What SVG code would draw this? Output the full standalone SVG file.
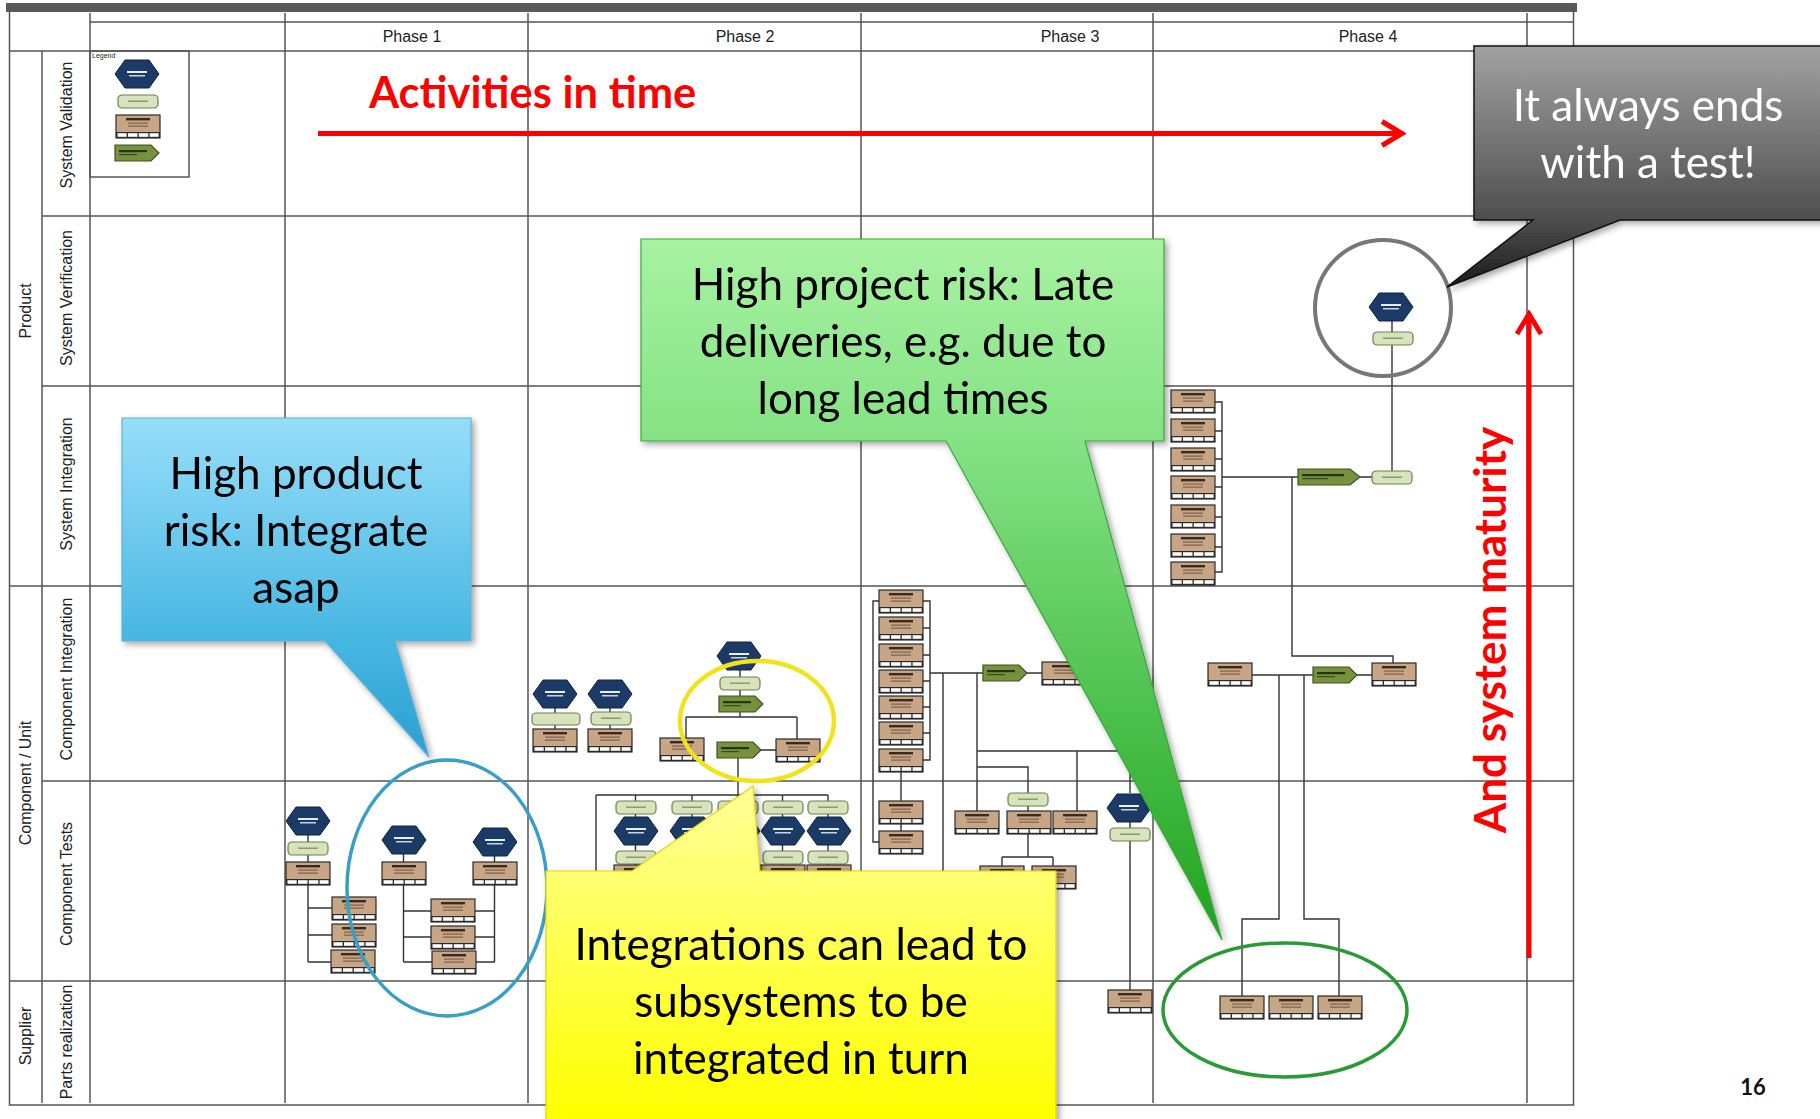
<svg xmlns="http://www.w3.org/2000/svg" xmlns:xlink="http://www.w3.org/1999/xlink" width="1820" height="1119" viewBox="0 0 1820 1119">
<style>
.grid{stroke:#555;stroke-width:1.5;fill:none}
.conn{stroke:#333;stroke-width:1.4;fill:none}
.lbl{font-family:"Liberation Sans",Arial,sans-serif;font-size:16px;fill:#222}
.call{font-family:Lato,"Open Sans",sans-serif;font-size:44px;fill:#000}
.red{font-family:Lato,"Open Sans",sans-serif;font-weight:bold;fill:#ff0000}
.redline{stroke:#ff0000;stroke-width:5;fill:none}
</style>
<defs>
<filter id="sh" x="-10%" y="-10%" width="130%" height="130%"><feDropShadow dx="3" dy="3" stdDeviation="3" flood-color="#000" flood-opacity="0.35"/></filter>
<g id="hex"><polygon points="0,14 10,0 34,0 44,14 34,28 10,28" fill="#1b3a66" stroke="#0e2244" stroke-width="1"/><rect x="12" y="11" width="20" height="2" fill="#e8eef8"/><rect x="14" y="15" width="16" height="1.5" fill="#c8d4e8"/></g>
<g id="lg"><rect width="40" height="13" rx="4" fill="#d6e3bc" stroke="#6f7f4f" stroke-width="1.2"/><rect x="10" y="5.5" width="20" height="1.5" fill="#8a9a6a"/></g>
<g id="tan"><rect width="44" height="23" fill="#c8a685" stroke="#2b2b2b" stroke-width="1.2"/><rect x="10" y="3" width="24" height="2.4" fill="#3a2a1e"/><rect x="12" y="7.5" width="20" height="1.2" fill="#7a6050"/><rect x="12" y="10.5" width="20" height="1.2" fill="#7a6050"/><rect x="0" y="17" width="44" height="6" fill="#2b2b2b"/><rect x="1.5" y="18.2" width="9.2" height="3.6" fill="#fff"/><rect x="12" y="18.2" width="9.5" height="3.6" fill="#fff"/><rect x="22.8" y="18.2" width="9.5" height="3.6" fill="#fff"/><rect x="33.6" y="18.2" width="9" height="3.6" fill="#fff"/></g>
<g id="arr"><polygon points="0,0 36,0 44,8 36,16 0,16" fill="#76923c" stroke="#3f5220" stroke-width="1.2"/><rect x="4" y="5" width="28" height="2.2" fill="#263314"/><rect x="4" y="9" width="18" height="1.2" fill="#3a4a20"/></g>
<linearGradient id="gBlue" gradientUnits="userSpaceOnUse" x1="0" y1="418" x2="0" y2="757"><stop offset="0" stop-color="#97def9"/><stop offset="0.66" stop-color="#46b6e2"/><stop offset="1" stop-color="#2a9fcf"/></linearGradient>
<linearGradient id="gGreen" gradientUnits="userSpaceOnUse" x1="0" y1="239" x2="0" y2="940"><stop offset="0" stop-color="#a8f2a2"/><stop offset="0.29" stop-color="#84e284"/><stop offset="1" stop-color="#1ea41e"/></linearGradient>
<linearGradient id="gYellow" gradientUnits="userSpaceOnUse" x1="0" y1="786" x2="0" y2="1119"><stop offset="0" stop-color="#ffff9a"/><stop offset="1" stop-color="#ffff00"/></linearGradient>
<linearGradient id="gGray" gradientUnits="userSpaceOnUse" x1="0" y1="46" x2="0" y2="287"><stop offset="0" stop-color="#a2a2a2"/><stop offset="0.72" stop-color="#4e4e4e"/><stop offset="1" stop-color="#1a1a1a"/></linearGradient>
<marker id="chev" markerUnits="userSpaceOnUse" markerWidth="30" markerHeight="30" viewBox="0 0 30 30" refX="26" refY="15" orient="auto"><path d="M6,3 L26,15 L6,27" fill="none" stroke="#ff0000" stroke-width="5" stroke-linejoin="miter"/></marker>
</defs>
<rect width="1820" height="1119" fill="#fff"/>

<g id="grid">
<rect x="6" y="3" width="1571" height="9" fill="#5a5a5a"/>
<rect x="9.5" y="8" width="1564" height="1097" class="grid" stroke="#5a5a5a" stroke-width="7"/>
<path class="grid" d="M90 13V1103M285 13V1103M528 13V1103M861 13V1103M1153 13V1103M1527 13V1103M42 51V1103"/>
<path class="grid" d="M90 22H1573M9 51H1573M42 216H1573M42 386H1573M9 586H1573M42 781H1573M9 981H1573"/>
<rect x="90" y="51" width="99" height="126" class="grid"/>
<text x="92" y="58" font-family="Liberation Sans,Arial,sans-serif" font-size="7" fill="#222">Legend</text>
<g class="lbl" text-anchor="middle">
<text x="412" y="42">Phase 1</text>
<text x="745" y="42">Phase 2</text>
<text x="1070" y="42">Phase 3</text>
<text x="1368" y="42">Phase 4</text>
<text transform="translate(31,311) rotate(-90)">Product</text>
<text transform="translate(31,783) rotate(-90)">Component / Unit</text>
<text transform="translate(31,1036) rotate(-90)">Supplier</text>
<text transform="translate(72,125) rotate(-90)">System Validation</text>
<text transform="translate(72,298) rotate(-90)">System Verification</text>
<text transform="translate(72,484) rotate(-90)">System Integration</text>
<text transform="translate(72,679) rotate(-90)">Component Integration</text>
<text transform="translate(72,884) rotate(-90)">Component Tests</text>
<text transform="translate(72,1042) rotate(-90)">Parts realization</text>
</g>
</g>

<g id="connectors" class="conn">
<path d="M308 821V962M308 908H332M308 935H332M308 962H331"/>
<path d="M403.5 840V962M494.5 842V962M403.5 911H495M403.5 937H495M403.5 962H495"/>
<path d="M555 694V740M610 694V740"/>
<path d="M740 656V717M686 717H797M686 717V738M797 717V739M738 750V795M760 750H776"/>
<path d="M596 795H828M596 795V880M635.5 795V870M692 795V870M737.5 795V870M782.5 795V870M828 795V870"/>
<path d="M879 601H873V842H879M923 601H930V760H923M923 628H930M923 655H930M923 681H930M923 707H930M923 733H930"/>
<path d="M901 772V801M901 824V831"/>
<path d="M930 673H983M1027 673H1042M943 673V1000M977 673V811M977 751H1130V793M1077 751V811M977 767H1028V811"/>
<path d="M1028 834V857M1002 857H1053M1002 857V866M1053 857V866M1130 822V990"/>
<path d="M1215 402H1222V572H1215M1215 431H1222M1215 459H1222M1215 487H1222M1215 517H1222M1215 547H1222"/>
<path d="M1222 477H1298M1360 477H1372M1392 307V471M1292 477V656H1393V663"/>
<path d="M1252 675H1313M1357 675H1372M1279 675V919H1242V996M1304 675V919H1339V996"/>
</g>

<g id="legend">
<use href="#hex" x="115" y="60"/>
<use href="#lg" x="118" y="95"/>
<use href="#tan" x="116" y="115"/>
<use href="#arr" x="115" y="145"/>
</g>

<g id="n-sysver"><use href="#hex" x="1369" y="293"/><use href="#lg" x="1373" y="332"/></g>
<g id="n-sysint-stack">
<use href="#tan" x="1171" y="390"/><use href="#tan" x="1171" y="419"/><use href="#tan" x="1171" y="448"/><use href="#tan" x="1171" y="476"/><use href="#tan" x="1171" y="505"/><use href="#tan" x="1171" y="534"/><use href="#tan" x="1171" y="562"/>
</g>
<g id="n-sysint-arr"><polygon points="1298,469 1350,469 1360,477 1350,485 1298,485" fill="#76923c" stroke="#3f5220" stroke-width="1.2"/><rect x="1302" y="474" width="42" height="2.2" fill="#263314"/><rect x="1302" y="478" width="26" height="1.2" fill="#3a4a20"/></g>
<g id="n-sysint-lg"><use href="#lg" x="1372" y="471"/></g>

<g id="n-p2-ci-a"><use href="#hex" x="533" y="680"/><rect x="532" y="713" width="48" height="12" rx="4" fill="#d6e3bc" stroke="#6f7f4f" stroke-width="1.2"/><use href="#tan" x="533" y="729"/></g>
<g id="n-p2-ci-b"><use href="#hex" x="588" y="680"/><use href="#lg" x="591" y="712"/><use href="#tan" x="588" y="729"/></g>
<g id="n-p2-ci-c"><use href="#hex" x="717" y="642"/><use href="#lg" x="720" y="677"/><use href="#arr" x="719" y="696"/></g>
<g id="n-p2-ci-d"><use href="#tan" x="660" y="738"/></g>
<g id="n-p2-ci-e"><use href="#arr" x="717" y="742"/></g>
<g id="n-p2-ci-f"><use href="#tan" x="776" y="739"/></g>

<g id="n-p3-stack">
<use href="#tan" x="879" y="590"/><use href="#tan" x="879" y="617"/><use href="#tan" x="879" y="644"/><use href="#tan" x="879" y="670"/><use href="#tan" x="879" y="696"/><use href="#tan" x="879" y="722"/><use href="#tan" x="879" y="749"/>
</g>
<g id="n-p3-t8"><use href="#tan" x="879" y="801"/></g>
<g id="n-p3-t9"><use href="#tan" x="879" y="831"/></g>
<g id="n-p3-arr"><use href="#arr" x="983" y="665"/></g>
<g id="n-p3-tan"><use href="#tan" x="1042" y="662"/></g>

<g id="n-p4-ci-l"><use href="#tan" x="1208" y="663"/></g>
<g id="n-p4-ci-arr"><use href="#arr" x="1313" y="667"/></g>
<g id="n-p4-ci-r"><use href="#tan" x="1372" y="663"/></g>

<g id="n-p1-ct-1"><use href="#hex" x="286" y="807"/><use href="#lg" x="288" y="842"/><use href="#tan" x="286" y="862"/></g>
<g id="n-p1-ct-b"><use href="#tan" x="332" y="897"/></g>
<g id="n-p1-ct-c"><use href="#tan" x="332" y="924"/></g>
<g id="n-p1-ct-d"><use href="#tan" x="331" y="950"/></g>
<g id="n-p1-ct-2"><use href="#hex" x="382" y="826"/><use href="#tan" x="382" y="862"/></g>
<g id="n-p1-ct-3"><use href="#hex" x="473" y="828"/><use href="#tan" x="473" y="862"/></g>
<g id="n-p1-ct-g"><use href="#tan" x="431" y="899"/></g>
<g id="n-p1-ct-h"><use href="#tan" x="431" y="926"/></g>
<g id="n-p1-ct-i"><use href="#tan" x="432" y="951"/></g>

<g id="n-p2-ct-1"><use href="#lg" x="616" y="801"/><use href="#hex" x="614" y="817"/><use href="#lg" x="616" y="851"/><use href="#tan" x="614" y="865"/></g>
<g id="n-p2-ct-2"><use href="#lg" x="672" y="801"/><use href="#hex" x="670" y="817"/><use href="#lg" x="672" y="851"/><use href="#tan" x="670" y="865"/></g>
<g id="n-p2-ct-3"><use href="#lg" x="718" y="801"/><use href="#hex" x="716" y="817"/><use href="#lg" x="718" y="851"/><use href="#tan" x="716" y="865"/></g>
<g id="n-p2-ct-4"><use href="#lg" x="763" y="801"/><use href="#hex" x="761" y="817"/><use href="#lg" x="763" y="851"/><use href="#tan" x="761" y="865"/></g>
<g id="n-p2-ct-5"><use href="#lg" x="808" y="801"/><use href="#hex" x="807" y="817"/><use href="#lg" x="808" y="851"/><use href="#tan" x="807" y="865"/></g>

<g id="n-p3-ct-lg"><use href="#lg" x="1008" y="793"/></g>
<g id="n-p3-ct-a"><use href="#tan" x="955" y="811"/></g>
<g id="n-p3-ct-b"><use href="#tan" x="1007" y="811"/></g>
<g id="n-p3-ct-c"><use href="#tan" x="1053" y="811"/></g>
<g id="n-p3-ct-d"><use href="#tan" x="980" y="866"/></g>
<g id="n-p3-ct-e"><use href="#tan" x="1032" y="866"/></g>
<g id="n-p3-ct-hex"><use href="#hex" x="1107" y="794"/><use href="#lg" x="1110" y="828"/></g>
<g id="n-p3-pr"><use href="#tan" x="1108" y="990"/></g>
<g id="n-p4-pr-1"><use href="#tan" x="1220" y="996"/></g>
<g id="n-p4-pr-2"><use href="#tan" x="1269" y="996"/></g>
<g id="n-p4-pr-3"><use href="#tan" x="1318" y="996"/></g>

<g id="highlights" fill="none">
<ellipse cx="447" cy="888" rx="100" ry="128" stroke="#3a9fc7" stroke-width="3.5"/>
<ellipse cx="757" cy="721" rx="77" ry="60" stroke="#f2e21a" stroke-width="4.5"/>
<ellipse cx="1285" cy="1010" rx="122" ry="67" stroke="#2a9a35" stroke-width="3.5"/>
<circle cx="1383" cy="308" r="68" stroke="#777" stroke-width="4"/>
</g>

<g id="arrows">
<path class="redline" d="M318 133.5H1402" marker-end="url(#chev)"/>
<path class="redline" d="M1529 958V314" marker-end="url(#chev)"/>
<text class="red" x="369" y="108" font-size="43.5">Activities in time</text>
<text class="red" transform="translate(1506,630) rotate(-90)" text-anchor="middle" font-size="44">And system maturity</text>
</g>

<g id="callout-blue" filter="url(#sh)">
<path d="M122 418H471V641H395L429 757L325 641H122Z" fill="url(#gBlue)" stroke="#5fb2d8" stroke-width="1.2"/>
<text class="call" text-anchor="middle"><tspan x="296" y="489">High product</tspan><tspan x="296" y="546">risk: Integrate</tspan><tspan x="296" y="603">asap</tspan></text>
</g>
<g id="callout-green" filter="url(#sh)">
<path d="M641 239H1164V441H1085L1222 940L946 441H641Z" fill="url(#gGreen)" stroke="#3aa83a" stroke-width="1.2"/>
<text class="call" text-anchor="middle"><tspan x="903" y="300">High project risk: Late</tspan><tspan x="903" y="357">deliveries, e.g. due to</tspan><tspan x="903" y="414">long lead times</tspan></text>
</g>
<g id="callout-yellow" filter="url(#sh)">
<path d="M546 871H632L753 786L760 871H1056V1125H546Z" fill="url(#gYellow)" stroke="#e6d400" stroke-width="1.2"/>
<text class="call" text-anchor="middle"><tspan x="801" y="960">Integrations can lead to</tspan><tspan x="801" y="1017">subsystems to be</tspan><tspan x="801" y="1074">integrated in turn</tspan></text>
</g>
<g id="callout-gray" filter="url(#sh)">
<path d="M1474 46H1830V220H1620L1447 287L1533 220H1474Z" fill="url(#gGray)" stroke="#111" stroke-width="1.5"/>
<text class="call" text-anchor="middle" fill="#fff" style="fill:#fff"><tspan x="1648" y="121">It always ends</tspan><tspan x="1648" y="178">with a test!</tspan></text>
</g>

<text x="1753" y="1095" text-anchor="middle" font-family="Lato,'Open Sans',sans-serif" font-weight="bold" font-size="22" fill="#111">16</text>
</svg>
